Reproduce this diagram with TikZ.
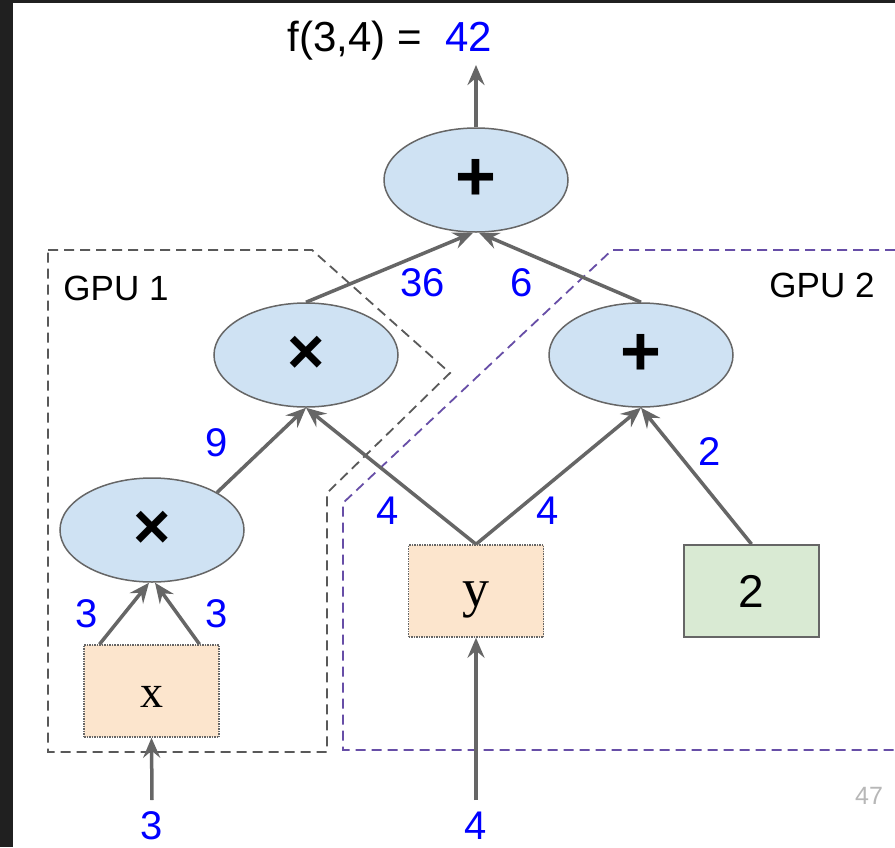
\documentclass[tikz,border=0pt]{standalone}
\usepackage{fontspec}
\setmainfont{Liberation Sans}
\newfontfamily\romanfont{Liberation Serif}
\usepackage{tikz}
\usetikzlibrary{shapes,arrows.meta,positioning}

\definecolor{slidedark}{HTML}{202020}
\definecolor{opfill}{HTML}{CFE2F3}
\definecolor{varfill}{HTML}{FCE5CD}
\definecolor{constfill}{HTML}{D9EAD3}
\definecolor{edgegray}{HTML}{666666}
\definecolor{gpugray}{HTML}{595959}
\definecolor{gpupurple}{HTML}{674EA7}
\definecolor{valblue}{HTML}{0000FF}
\definecolor{pagegray}{HTML}{B7B7B7}

\begin{document}
\begin{tikzpicture}[x=1pt,y=-1pt,
        op/.style={ellipse,draw=edgegray,line width=1.5pt,fill=opfill,minimum width=184pt,minimum height=104pt,inner sep=0pt,font=\fontsize{64}{64}\selectfont\bfseries},
        var/.style={rectangle,draw=edgegray,densely dotted,line width=1.5pt,fill=varfill,minimum width=135pt,minimum height=92pt,inner sep=0pt},
        const/.style={rectangle,draw=edgegray,line width=1.8pt,fill=constfill,minimum width=135pt,minimum height=92pt,inner sep=0pt,font=\fontsize{46}{46}\selectfont},
        edge/.style={draw=edgegray,line width=3.5pt,-{Stealth[length=20pt,width=17pt,inset=7pt]}},
        val/.style={text=valblue,inner sep=0pt,font=\fontsize{40}{40}\selectfont},
        gpubox/.style={line width=1.8pt,dash pattern=on 10pt off 6pt},
        gpulabel/.style={inner sep=0pt,font=\fontsize{35}{35}\selectfont}]
        \useasboundingbox (0,0) rectangle (895,847);
        \fill[slidedark] (0,0) rectangle (895,847);     % screenshot frame
        \fill[white] (13,3) rectangle (895,847);

        % the two device groups
        \draw[gpubox,draw=gpugray] (48,250) -- (312,250) -- (450,373) -- (327,493) -- (327,752) -- (48,752) -- cycle;
        \draw[gpubox,draw=gpupurple] (895,250) -- (612,250) -- (343,503) -- (343,750) -- (895,750);
        \node[gpulabel] (gpu1) at (116,288) {GPU 1};
        \node[gpulabel] (gpu2) at (822,285) {GPU 2};

        % operations, variables and constant
        \node[op,font=\fontsize{70}{70}\selectfont\bfseries] (add) at (476,180) {+};
        \node[op] (mulL) at (306,355) {×};
        \node[op,font=\fontsize{70}{70}\selectfont\bfseries] (addR) at (641,355) {+};
        \node[op] (mulB) at (152,530) {×};
        \node[var,font=\fontsize{46}{46}\selectfont\romanfont] (x) at (151.5,691) {\raisebox{-16.5pt}[0pt][0pt]{x}};
        \node[var,font=\fontsize{54}{54}\selectfont\romanfont] (y) at (476,591) {\raisebox{-15.5pt}[0pt][0pt]{y}};
        \node[const] (two) at (751.5,591) {2};

        % inputs and output
        \coordinate (inx) at (152,800);
        \coordinate (iny) at (476,800);
        \coordinate (out) at (476,65);
        \node[val] (x3) at (152,826) {3};
        \node[val] (y4) at (476,826) {4};
        \node[anchor=base,inner sep=0pt,font=\fontsize{42}{42}\selectfont] (result) at (390,51) {f(3,4) =\ \ \textcolor{valblue}{42}};

        \draw[edge] (inx) -- (x.south);
        \draw[edge] (iny) -- (y.south);
        \draw[edge] ([xshift=-52pt]x.north) -- ([xshift=-3pt]mulB.south);
        \draw[edge] ([xshift=48pt]x.north) -- ([xshift=3pt]mulB.south);
        \draw[edge] (mulB.30) -- (mulL.south);
        \draw[edge] (y.north) -- (mulL.south);
        \draw[edge] (y.north) -- (addR.south);
        \draw[edge] (two.north) -- (addR.south);
        \draw[edge] (mulL.north) -- ([xshift=-3pt]add.south);
        \draw[edge] (addR.north) -- ([xshift=3pt]add.south);
        \draw[edge] (add.north) -- (out);

        % values along the edges
        \node[val] (vx1) at (87,614) {3};
        \node[val] (vx2) at (217,614) {3};
        \node[val] (v9) at (217,443) {9};
        \node[val] (vy1) at (388,511) {4};
        \node[val] (vy2) at (548,511) {4};
        \node[val] (v2) at (710,452) {2};
        \node[val] (v36) at (423,283) {36};
        \node[val] (v6) at (522,283) {6};

        \node[inner sep=0pt,text=pagegray,font=\fontsize{25}{25}\selectfont] (page) at (869,796) {47};
\end{tikzpicture}
\end{document}
